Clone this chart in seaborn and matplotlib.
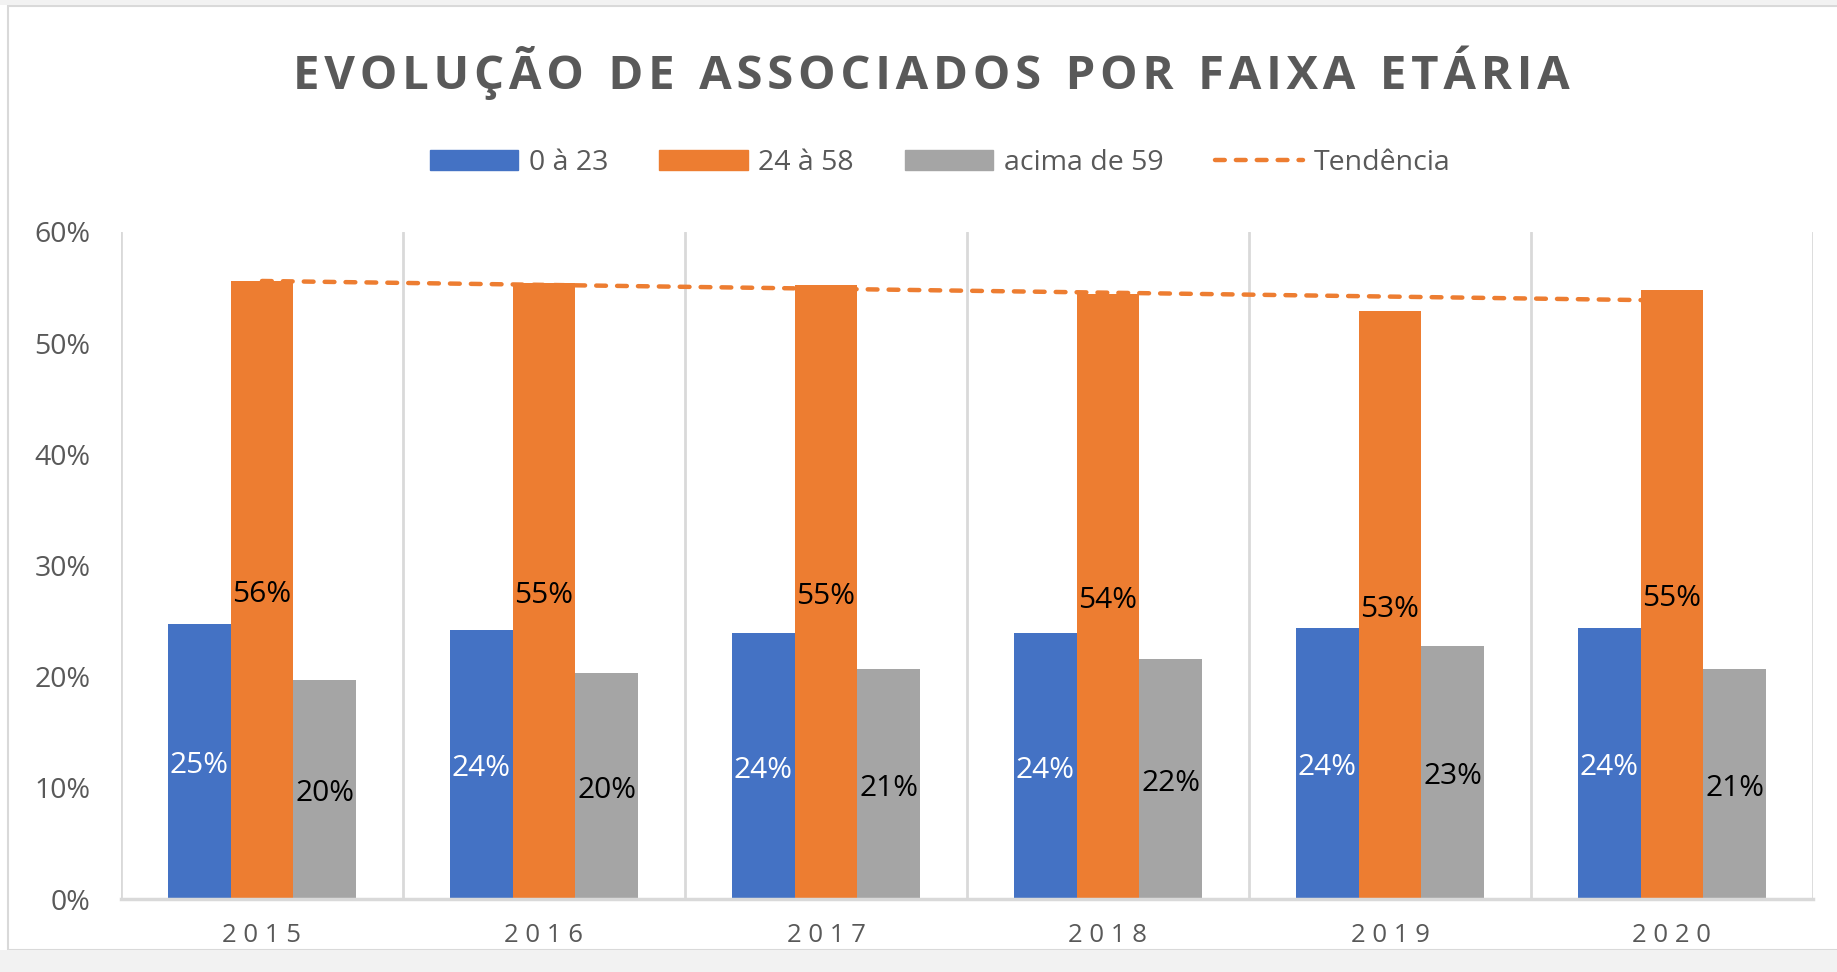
import matplotlib
matplotlib.use('Agg')
import matplotlib.pyplot as plt
from matplotlib.lines import Line2D
from matplotlib.patches import Rectangle
import seaborn as sns
import numpy as np
import pandas as pd

sns.set_style('white')
plt.rcParams['font.family'] = ['Open Sans', 'DejaVu Sans']

anos = ['2015', '2016', '2017', '2018', '2019', '2020']
faixas = ['0 à 23', '24 à 58', 'acima de 59']
faixa_0_23 = [24.7, 24.2, 23.9, 23.9, 24.4, 24.4]
faixa_24_58 = [55.6, 55.4, 55.2, 54.4, 52.9, 54.8]
faixa_59 = [19.7, 20.3, 20.7, 21.6, 22.8, 20.7]
cores = ['#4472C4', '#ED7D31', '#A5A5A5']
cor_rotulo = ['white', 'black', 'black']

df = pd.DataFrame({
    'ano': anos * 3,
    'faixa': [f for f in faixas for _ in anos],
    'valor': faixa_0_23 + faixa_24_58 + faixa_59,
})

fig = plt.figure(figsize=(18.37, 9.72), dpi=100)
ax = fig.add_axes([121 / 1837, 1 - 899 / 972, (1813 - 121) / 1837, (899 - 232) / 972])

sns.barplot(data=df, x='ano', y='valor', hue='faixa', hue_order=faixas,
            palette=cores, saturation=1, width=0.667, errorbar=None,
            linewidth=0, ax=ax, legend=False)

for cont, cor in zip(ax.containers, cor_rotulo):
    vals = [b.get_height() for b in cont]
    rots = ax.bar_label(cont, labels=[f'{round(v)}%' for v in vals], label_type='center',
                        color=cor, fontsize=21.5)
    for r in rots:
        r.xyann = (0, -3)

# linha de tendencia (linear) sobre a faixa 24 a 58
x = np.arange(len(anos))
coef = np.polyfit(x, faixa_24_58, 1)
ax.plot(x, np.polyval(coef, x), color='#ED7D31', lw=3.2, linestyle=(0, (2.2, 2.5)),
        dash_capstyle='round', zorder=5)

ax.set_xlim(-0.5, len(anos) - 0.5)
ax.set_ylim(0, 60)
ax.set_yticks(range(0, 61, 10))
ax.set_yticklabels([f'{t}%' for t in range(0, 61, 10)])
ax.set_xticks(x)
ax.set_xticklabels([' '.join(a) for a in anos])
ax.tick_params(axis='y', labelsize=20.5, colors='#595959', pad=22, length=0)
ax.tick_params(axis='x', labelsize=18.5, colors='#595959', pad=17, length=0)
ax.set_xlabel('')
ax.set_ylabel('')

for xv in np.arange(-0.5, len(anos), 1.0):
    ax.axvline(xv, color='#d9d9d9', lw=2, zorder=0)
for s in ['top', 'right', 'left']:
    ax.spines[s].set_visible(False)
ax.spines['bottom'].set_color('#d9d9d9')
ax.spines['bottom'].set_linewidth(2.5)

titulo = 'EVOLUÇÃO DE ASSOCIADOS POR FAIXA ETÁRIA'
titulo_esp = '  '.join('\u200a'.join(p) for p in titulo.split(' '))
fig.text(931 / 1837, 1 - 73 / 972, titulo_esp, ha='center', va='center',
         fontsize=34, fontweight='bold', color='#595959',
         family=['Open Sans', 'DejaVu Sans'])

handles = [Rectangle((0, 0), 1, 1, color=c) for c in cores]
handles.append(Line2D([0], [0], color='#ED7D31', lw=3.2, linestyle=(0, (2.2, 2.5)),
                      dash_capstyle='round'))
fig.legend(handles, faixas + ['Tendência'], loc='center', ncol=4,
           bbox_to_anchor=(940 / 1837, 1 - 163 / 972), frameon=False,
           fontsize=20.5, labelcolor='#595959', handlelength=3.1, handleheight=0.7,
           columnspacing=1.8, handletextpad=0.37)

# moldura do grafico
fig.patches.append(Rectangle((8 / 1837, 22 / 972), 1.2, 1 - 28 / 972,
                             transform=fig.transFigure, fill=False,
                             edgecolor='#d9d9d9', lw=1.5))
fig.patches.append(Rectangle((0, 0), 1, 22 / 972, transform=fig.transFigure,
                             color='#f2f2f2', lw=0))
fig.patches.append(Rectangle((0, 1 - 5 / 972), 1, 5 / 972, transform=fig.transFigure,
                             color='#f2f2f2', lw=0))

fig.savefig('out.png', dpi=100)
